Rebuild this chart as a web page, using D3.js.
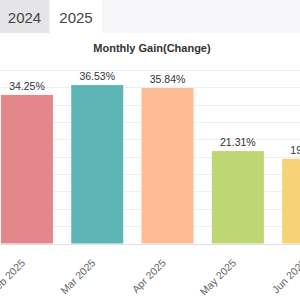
<!DOCTYPE html>
<html>
<head>
<meta charset="utf-8">
<script src="https://cdn.jsdelivr.net/npm/d3@7"></script>
<style>
  body { margin: 0; background: #fff; }
  svg { display: block; font-family: "Liberation Sans", Arial, sans-serif; }
</style>
</head>
<body>
<svg id="chart" width="300" height="300"></svg>
<script>
var tabs = ["2024", "2025"];
var months = ["Feb 2025", "Mar 2025", "Apr 2025", "May 2025", "Jun 2025"];
var gains = [34.25, 36.53, 35.84, 21.31, 19.52];
var colors = ["#e4878b", "#5db5b6", "#ffbb94", "#bed673", "#f6d375"];
var yTicks = [0, 4, 8, 12, 16, 20, 24, 28, 32, 36, 40];

var svg = d3.select("#chart"),
    width = +svg.attr("width"),
    height = +svg.attr("height");

// tab strip
svg.append("rect").attr("x", 0).attr("y", 0).attr("width", width).attr("height", 33).attr("fill", "#f6f5f8");
var tabW = [49, 52];
var tabX = 0;
tabs.forEach(function(t, i) {
  svg.append("rect")
    .attr("x", tabX).attr("y", 0)
    .attr("width", tabW[i]).attr("height", 33)
    .attr("fill", i == 0 ? "#e5e4e7" : "#ffffff");
  svg.append("text")
    .attr("x", tabX + tabW[i] / 2).attr("y", 23)
    .attr("text-anchor", "middle")
    .attr("font-size", 15)
    .attr("fill", "#444")
    .text(t);
  tabX += tabW[i] + 1;
});

svg.append("text")
  .attr("x", 152).attr("y", 52)
  .attr("text-anchor", "middle")
  .attr("font-size", 11)
  .attr("font-weight", "bold")
  .attr("fill", "#333")
  .text("Monthly Gain(Change)");

var y = d3.scaleLinear().domain([0, 40]).range([243.5, 70]);
var x = d3.scaleBand().domain(months).range([-8.2, -8.2 + 70.3 * months.length]).paddingInner(0.26).paddingOuter(0.13);

// grid
svg.append("g").selectAll("line").data(yTicks).enter().append("line")
  .attr("x1", 0).attr("x2", width)
  .attr("y1", function(d) { return Math.round(y(d)) + 0.5; })
  .attr("y2", function(d) { return Math.round(y(d)) + 0.5; })
  .attr("stroke", function(d) { return d == 0 ? "#e2e2e6" : "#f0f0f2"; })
  .attr("stroke-width", 1);

var bars = svg.append("g").selectAll("rect").data(gains).enter();
bars.append("rect")
  .attr("x", function(d, i) { return x(months[i]); })
  .attr("y", function(d) { return y(d); })
  .attr("width", x.bandwidth())
  .attr("height", function(d) { return y(0) - y(d); })
  .attr("fill", function(d, i) { return colors[i]; });

bars.append("text")
  .attr("x", function(d, i) { return x(months[i]) + x.bandwidth() / 2; })
  .attr("y", function(d) { return y(d) - 5; })
  .attr("text-anchor", "middle")
  .attr("font-size", 10.5)
  .attr("fill", "#333")
  .text(function(d) { return d.toFixed(2) + "%"; });

var xAxis = svg.append("g")
  .attr("transform", "translate(0," + y(0) + ")")
  .call(d3.axisBottom(x).tickSize(0).tickPadding(0));
xAxis.select(".domain").remove();
xAxis.selectAll("text")
  .attr("font-size", 10.5)
  .attr("fill", "#666")
  .attr("font-family", "Liberation Sans, Arial, sans-serif")
  .attr("text-anchor", "end")
  .attr("dy", 0)
  .attr("transform", "translate(-1,20) rotate(-45)");
</script>
</body>
</html>
